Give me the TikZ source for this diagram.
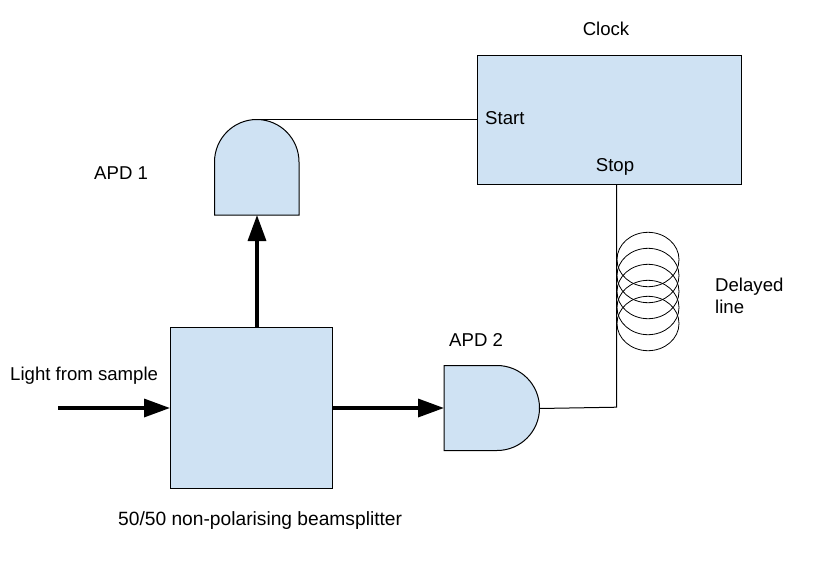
\documentclass[tikz,border=0pt]{standalone}
\usepackage{fontspec}
\setmainfont{Liberation Sans}
\usetikzlibrary{arrows.meta,calc}
\definecolor{boxblue}{HTML}{CFE2F3}
\tikzset{
  x=1pt,y=-1pt,
  blockbox/.style={draw=black,fill=boxblue,line width=1pt,inner sep=0pt,anchor=north west},
  detector/.style={draw=black,fill=boxblue,line width=1pt},
  thinwire/.style={draw=black,line width=1pt},
  beam/.style={draw=black,line width=3.4pt,-{Triangle[length=26pt,width=18pt]}},
  coil/.style={draw=black,line width=0.8pt},
  lbl/.style={font=\fontsize{18.6}{22}\selectfont,inner sep=0pt,text=black}
}
\begin{document}
\begin{tikzpicture}
\useasboundingbox (0,0) rectangle (819,568);
\node[blockbox,minimum width=264pt,minimum height=129pt] (clock) at (477,55) {};
\node[blockbox,minimum width=162pt,minimum height=161pt] (splitter) at (170,327) {};
\coordinate (apdonebottom) at (257,215);
\coordinate (apdonetop) at (257,119.5);
\coordinate (apdtwoin) at (444,408);
\coordinate (apdtwoout) at (539,408.5);
% APD 1
\draw[detector] (214.5,215) -- (214.5,162) arc[start angle=180,end angle=360,x radius=42.25,y radius=42.5] -- (299,215) -- cycle;
% APD 2
\draw[detector] (444,365.5) -- (497,365.5) arc[start angle=-90,end angle=90,x radius=42.5,y radius=42.5] -- (444,450.5) -- cycle;
% coil
\foreach \cy in {259.5,275.5,291.5,307.5,323.5}
  \draw[coil] (648,\cy) ellipse [x radius=31,y radius=27.2];
% connectors
\coordinate (startpin) at (clock.west |- apdonetop);
\coordinate (stoppin) at (616.5,184);
\coordinate (bend) at (616.5,407.2);
\draw[thinwire] (apdonetop) -- (startpin);
\draw[thinwire] (apdtwoout) -- (bend) -- (stoppin);
\coordinate (lightin) at (58,408);
\coordinate (splitw) at (170,408);
\coordinate (splite) at (332,408);
\coordinate (splitn) at (257,327);
\draw[beam] (lightin) -- (splitw);
\draw[beam] (splite) -- (apdtwoin);
\draw[beam] (splitn) -- (apdonebottom);
% labels
\node[lbl] (clocklbl) at (606,29) {Clock};
\node[lbl,anchor=west] (startlbl) at (485,118) {Start};
\node[lbl] (stoplbl) at (615,167) {Stop};
\node[lbl,anchor=west] (apdonelbl) at (94,173) {APD 1};
\node[lbl,anchor=west] (apdtwolbl) at (449,340) {APD 2};
\node[lbl,anchor=west] (delay1) at (715,287) {Delayed};
\node[lbl,anchor=west] (delay2) at (715,307) {line};
\node[lbl,anchor=west] (lightlbl) at (10,376) {Light from sample};
\node[lbl,anchor=west,font=\fontsize{19.2}{22}\selectfont] (splitlbl) at (118,521) {50/50 non-polarising beamsplitter};
\end{tikzpicture}
\end{document}
